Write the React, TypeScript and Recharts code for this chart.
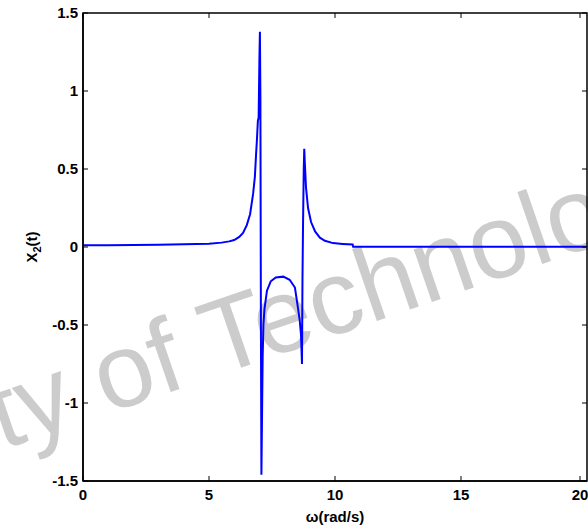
import { LineChart, Line, XAxis, YAxis, ReferenceArea } from "recharts";

// frequency (rad/s) and response X2
const omega = [
  0, 1, 2, 3, 3.5, 4, 4.5, 5, 5.5, 5.8, 6.0, 6.2, 6.35, 6.5, 6.63, 6.75, 6.82,
  6.87, 6.9, 6.94, 6.97, 7.0, 7.02, 7.04, 7.06, 7.08, 7.11, 7.13, 7.16, 7.2,
  7.3, 7.45, 7.65, 7.95, 8.2, 8.41, 8.53, 8.6, 8.65, 8.69, 8.71, 8.73, 8.76,
  8.78, 8.8, 8.85, 8.93, 9.05, 9.21, 9.4, 9.6, 9.92, 10.3, 10.7, 10.72, 12, 16, 20,
];
const x2 = [
  0.012, 0.012, 0.013, 0.014, 0.016, 0.017, 0.019, 0.021, 0.028, 0.036, 0.045,
  0.065, 0.09, 0.14, 0.21, 0.34, 0.45, 0.6, 0.68, 0.81, 0.83, 1.2, 1.38, 0.95,
  -0.5, -1.46, -1.0, -0.7, -0.5, -0.4, -0.28, -0.22, -0.195, -0.19, -0.21,
  -0.26, -0.39, -0.47, -0.56, -0.75, -0.2, 0.12, 0.5, 0.63, 0.55, 0.38, 0.25,
  0.16, 0.1, 0.06, 0.04, 0.025, 0.02, 0.016, 0.002, 0.002, 0.001, 0.001,
];
const xTicks = [0, 5, 10, 15, 20];
const yTicks = [-1.5, -1, -0.5, 0, 0.5, 1, 1.5];

const data = omega.map((w, i) => ({ w, v: x2[i] }));

const W = 588;
const H = 527;
const LEFT = 83;
const RIGHT = 587;
const TOP = 13;
const BOTTOM = 481;
const FONT = "'Liberation Sans', Arial, Helvetica, sans-serif";

function XTick(props: any) {
  const { x, payload } = props;
  return (
    <g>
      <line x1={x} x2={x} y1={BOTTOM} y2={BOTTOM - 5} stroke="#000" />
      <line x1={x} x2={x} y1={TOP} y2={TOP + 5} stroke="#000" />
      <text x={x} y={BOTTOM + 19} textAnchor="middle" fontFamily={FONT} fontWeight="bold" fontSize={15} fill="#000">
        {payload.value}
      </text>
    </g>
  );
}

function YTick(props: any) {
  const { y, payload } = props;
  return (
    <g>
      <line x1={LEFT} x2={LEFT + 5} y1={y} y2={y} stroke="#000" />
      <line x1={RIGHT} x2={RIGHT - 5} y1={y} y2={y} stroke="#000" />
      <text x={LEFT - 5} y={y + 5} textAnchor="end" fontFamily={FONT} fontWeight="bold" fontSize={15} fill="#000">
        {payload.value}
      </text>
    </g>
  );
}

function YLabel() {
  return (
    <text transform="translate(37,247) rotate(-90)" textAnchor="middle" fontFamily={FONT} fontWeight="bold" fontSize={15} fill="#000">
      X<tspan fontSize={11} dy={4}>2</tspan>
      <tspan dy={-4}>(t)</tspan>
    </text>
  );
}

export default function App() {
  return (
    <div style={{ position: "fixed", left: 0, top: 0, width: W, height: H, background: "#fff", overflow: "hidden" }}>
      <svg width={W} height={H} style={{ position: "absolute", left: 0, top: 0 }}>
        <text
          x={2}
          y={450}
          transform="rotate(-19, 2, 450)"
          fontFamily="'Liberation Sans', Arial, sans-serif"
          fontSize={105}
          fill="#cccccc"
        >
          ty of Technolo
        </text>
      </svg>
      <div style={{ position: "absolute", left: 0, top: 0 }}>
        <LineChart width={W} height={H} data={data} margin={{ top: TOP, right: W - RIGHT, bottom: 5, left: 23 }}>
          <XAxis
            dataKey="w"
            type="number"
            domain={[0, 20]}
            ticks={xTicks}
            tick={<XTick />}
            tickLine={false}
            axisLine={{ stroke: "#000", strokeWidth: 1.5 }}
            height={41}
            label={{ value: "ω(rad/s)", position: "insideBottom", offset: 0, fill: "#000", fontFamily: FONT, fontWeight: "bold", fontSize: 15 }}
          />
          <YAxis
            type="number"
            domain={[-1.5, 1.5]}
            ticks={yTicks}
            tick={<YTick />}
            tickLine={false}
            axisLine={{ stroke: "#000", strokeWidth: 1.5 }}
            width={60}
            label={<YLabel />}
          />
          <ReferenceArea x1={0} x2={20} y1={-1.5} y2={1.5} fill="none" stroke="#000" strokeWidth={1.5} ifOverflow="visible" />
          <Line dataKey="v" type="linear" stroke="#0000ff" strokeWidth={2} dot={false} isAnimationActive={false} />
        </LineChart>
      </div>
    </div>
  );
}
